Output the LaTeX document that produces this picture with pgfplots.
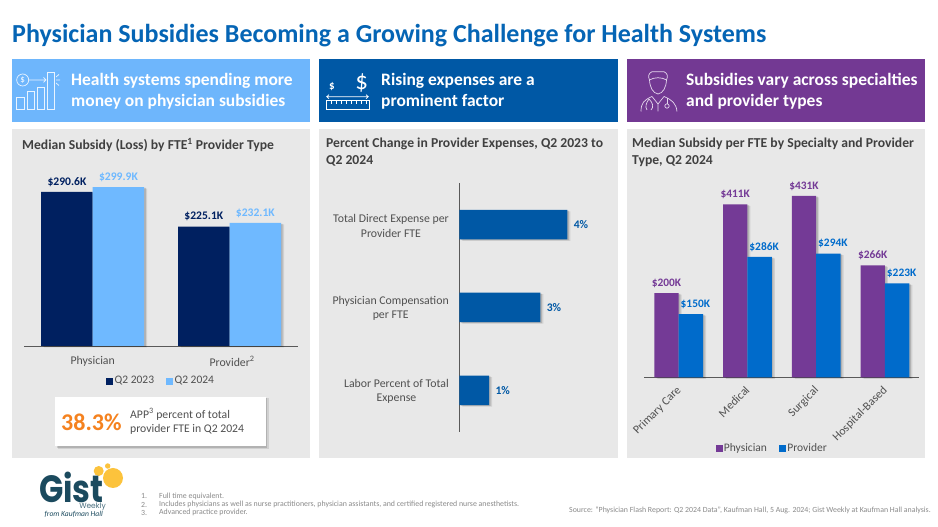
\documentclass[border=0pt]{standalone}
\usepackage{fontspec}
\usepackage{pgfplots}
\pgfplotsset{compat=1.18}
\setmainfont{Carlito}
\newfontfamily\logofont{Poppins}
\newcommand\fs[2]{\fontsize{#1}{#2}\selectfont}

\definecolor{titleblue}{HTML}{0565B5}
\definecolor{headlight}{HTML}{6EB6FC}
\definecolor{headblue}{HTML}{0058A5}
\definecolor{headpurple}{HTML}{733993}
\definecolor{panelgray}{HTML}{E8E8E8}
\definecolor{navy}{HTML}{002060}
\definecolor{skyblue}{HTML}{6FB9FF}
\definecolor{physpurple}{HTML}{743A96}
\definecolor{provblue}{HTML}{006BCB}
\definecolor{txt}{HTML}{404040}
\definecolor{tick}{HTML}{505050}
\definecolor{orangeval}{HTML}{F5821F}
\definecolor{logoteal}{HTML}{1B4A5E}
\definecolor{logoyellow}{HTML}{FCC33C}
\definecolor{note}{HTML}{8A8A8A}
\definecolor{iconpurple}{HTML}{E6D8EE}

\tikzset{
  barshadow/.style={
    preaction={fill=black,fill opacity=.10,draw=none,transform canvas={shift={(3pt,-1.5pt)}}},
    preaction={fill=black,fill opacity=.14,draw=none,transform canvas={shift={(1.6pt,-.8pt)}}}},
  headtext/.style={anchor=west,text=white,font=\bfseries\fs{17.45}{21},align=left},
  paneltitle/.style={anchor=north west,text=txt,font=\bfseries\fs{13.65}{17.2},align=left},
  notetext/.style={anchor=west,text=note,font=\fs{7.85}{8},inner sep=0pt},
}
\pgfplotsset{
  panelbars/.style={
    scale only axis,clip=false,
    /pgf/number format/assume math mode=true,
    axis line style={draw=black!65,line width=.7pt},
    major tick length=0pt,
    tick label style={font=\fs{11.8}{14.5},text=tick},
    nodes near coords style={font=\bfseries\fs{11.6}{14}},
    legend style={draw=none,fill=none,font=\fs{11.5}{14},text=tick,legend columns=-1,
      /tikz/every even column/.append style={column sep=10pt}},
  },
  sqleg/.style={legend image code/.code={\fill[#1] (0pt,-3pt) rectangle (6pt,3pt);}},
}

\begin{document}
\begin{tikzpicture}[x=1pt,y=1pt]
\path[use as bounding box,fill=white] (0,0) rectangle (938,527);

% layout drawn in reference pixels, y down
\begin{scope}[yshift=527pt,y=-1pt]
\node[anchor=west,text=titleblue,font=\bfseries\fs{26}{30},inner sep=0pt] at (12,35.5)
  {Physician Subsidies Becoming a Growing Challenge for Health Systems};

\fill[headlight] (11.5,59) rectangle (310,122);
\fill[headblue] (319,59) rectangle (618,122);
\fill[headpurple] (627,59) rectangle (925,122);
\fill[panelgray] (11.5,129) rectangle (310,458);
\fill[panelgray] (319,129) rectangle (618,458);
\fill[panelgray] (627,129) rectangle (925,458);

\node[headtext,inner sep=0pt] at (71,91) {Health systems spending more\\money on physician subsidies};
\node[headtext,inner sep=0pt] at (381,91) {Rising expenses are a\\prominent factor};
\node[headtext,inner sep=0pt] at (686,91) {Subsidies vary across specialties\\and provider types};

\node[paneltitle,inner sep=0pt] at (22,138) {Median Subsidy (Loss) by FTE\textsuperscript{1} Provider Type};
\node[paneltitle,inner sep=0pt] at (326,138) {Percent Change in Provider Expenses, Q2 2023 to\\Q2 2024};
\node[paneltitle,inner sep=0pt] at (632,138) {Median Subsidy per FTE by Specialty and Provider\\Type, Q2 2024};

% icon: money to bars
\begin{scope}[draw=white!85!headlight,line width=.7pt]
\draw (22.7,80) circle (6);
\node[text=white,font=\fs{9}{9},inner sep=0pt] at (22.7,80) {\$};
\draw (28.7,80) -- (46,80) (43.5,77.5) -- (46,80) -- (43.5,82.5);
\draw (16.7,97.3) rectangle (24,109.3);
\draw (27,91.7) rectangle (34.3,109.3);
\draw (37,87.3) rectangle (44.3,109.3);
\draw (47,72.7) rectangle (54.3,109.3);
\draw (56,80) -- (60,80) (56,77) -- (59,74.5) (56,83) -- (59,85.5);
\end{scope}
% icon: ruler
\begin{scope}[draw=white,line width=.7pt]
\node[text=white,font=\fs{25}{25},inner sep=0pt] at (361.7,83) {\$};
\node[text=white,font=\bfseries\fs{11}{11},inner sep=0pt] at (332,86.7) {\$};
\draw (326.7,96.7) -- (368.3,96.7) (329,94.7) -- (326.7,96.7) -- (329,98.7) (366,94.7) -- (368.3,96.7) -- (366,98.7);
\draw (326.7,100.7) rectangle (369.3,109);
\foreach \x in {331,336,341,346,351,356,361,366} \draw (\x,100.7) -- (\x,104.5);
\end{scope}
% icon: doctor
\begin{scope}[draw=iconpurple,line width=.7pt]
\draw (649.5,80) .. controls (650,88) and (653,93) .. (658,94) .. controls (663,93) and (666,88) .. (666.5,80);
\draw (649.5,80) .. controls (647.5,76) and (649,73) .. (652,71.7) -- (664,71.7) .. controls (667,73) and (668.5,76) .. (666.5,80);
\draw (649.5,80) .. controls (654,77) and (662,77) .. (666.5,80);
\draw (641,111.5) .. controls (641,103) and (644,100) .. (652,96.5);
\draw (664,96.5) .. controls (672,100) and (676,103) .. (677,111.5);
\draw (652,96.5) -- (658,104) -- (664,96.5) (658,104) -- (658,111.5);
\draw (649,99) .. controls (646,103) and (645,107) .. (647,110);
\draw (649,99) .. controls (653,103) and (654,107) .. (651,110);
\draw (667,98.5) -- (667,104);
\draw (667,106) circle (2.2);
\end{scope}

% callout box
\fill[black,opacity=.10] (57.5,398.5) rectangle (268.5,449);
\fill[black,opacity=.14] (56.5,397.8) rectangle (267.2,447.6);
\fill[white] (55.3,396.7) rectangle (266,446);
\node[anchor=west,text=orangeval,font=\bfseries\fs{24}{26},inner sep=0pt] at (61,422) {38.3\%};
\node[anchor=west,text=tick,font=\fs{11.7}{14.3},align=left,inner sep=0pt] at (130,421.3)
  {APP\textsuperscript{3} percent of total\\provider FTE in Q2 2024};

% logo
\fill[logoyellow] (113,478) circle (10);
\fill[logoyellow] (98.7,471) circle (5);
\fill[logoyellow] (107.7,466) circle (2.7);
\node[anchor=west,text=logoteal,font=\logofont\bfseries\fs{38}{38},inner sep=0pt] at (39,487.5) {\scalebox{.84}[1]{Gist}};
\node[anchor=east,text=logoteal!80,font=\logofont\fs{7.5}{8},inner sep=0pt] at (106,506.5) {Weekly};
\node[anchor=east,text=logoteal,font=\itshape\fs{7.6}{8},inner sep=0pt] at (103,514.5) {from Kaufman Hall};

% footnotes
\node[notetext] at (141,496.5) {1.};
\node[notetext] at (141,504.5) {2.};
\node[notetext] at (141,512.5) {3.};
\node[notetext] at (159,496.5) {Full time equivalent.};
\node[notetext] at (159,504.5) {Includes physicians as well as nurse practitioners, physician assistants, and certified registered nurse anesthetists.};
\node[notetext] at (159,512.5) {Advanced practice provider.};
\node[notetext,anchor=east] at (931,510) {Source: ``Physician Flash Report: Q2 2024 Data'', Kaufman Hall, 5 Aug. 2024; Gist Weekly at Kaufman Hall analysis.};
\end{scope}

% left panel
\begin{axis}[panelbars,
  at={(24.3pt,181pt)},anchor=south west,
  width=273.7pt,height=185.5pt,
  axis y line=none,axis x line*=bottom,
  xmin=-0.5,xmax=1.5,ymin=0,ymax=350,
  ybar,bar width=51.5pt,
  xtick={0,1},xticklabels={Physician,\hspace*{5pt}Provider\textsuperscript{2}},
  xticklabel style={yshift=-7pt},
  nodes near coords={\$\pgfmathprintnumber[fixed,precision=1,zerofill]{\pgfplotspointmeta}K},
  nodes near coords style={yshift=2pt},
  legend style={at={(0.5,-0.188)},anchor=center},
]
\addlegendimage{sqleg=navy}
\addlegendimage{sqleg=skyblue}
\addplot[forget plot,fill=navy,draw=none,barshadow,bar shift=-25.75pt,
  nodes near coords style={text=navy}] coordinates {(0,290.6) (1,225.1)};
\addplot[forget plot,fill=skyblue,draw=none,barshadow,bar shift=25.75pt,
  nodes near coords style={text=skyblue}] coordinates {(0,299.9) (1,232.1)};
\legend{Q2 2023,Q2 2024}
\end{axis}

% middle panel
\begin{axis}[panelbars,
  at={(459.3pt,95.3pt)},anchor=south west,
  width=148.5pt,height=248.4pt,
  axis x line=none,axis y line*=left,
  xmin=0,xmax=5.5,ymin=-0.5,ymax=2.5,y dir=reverse,
  xbar,bar width=29.5pt,
  ytick={0,1,2},
  yticklabels={{Total Direct Expense per\\Provider FTE},{Physician Compensation\\per FTE},{Labor Percent of Total\\Expense}},
  yticklabel style={align=center,xshift=-7pt,yshift=-1pt},
  nodes near coords={\pgfmathprintnumber[fixed,precision=0]{\pgfplotspointmeta}\%},
  nodes near coords style={text=headblue,xshift=3pt},
]
\addplot[fill=headblue,draw=none,barshadow] coordinates {(4,0) (3,1) (1.1,2)};
\end{axis}

% right panel
\begin{axis}[panelbars,
  at={(644.3pt,149.7pt)},anchor=south west,
  width=275pt,height=202pt,
  axis y line=none,axis x line*=bottom,
  xmin=-0.5,xmax=3.5,ymin=0,ymax=480,
  ybar,bar width=24.4pt,
  xtick={0,1,2,3},xticklabels={Primary Care,Medical,Surgical,Hospital-Based},
  xticklabel style={xshift=-3pt,yshift=-3pt,rotate=45,anchor=north east},
  nodes near coords={\$\pgfmathprintnumber[fixed,precision=0]{\pgfplotspointmeta}K},
  nodes near coords style={font=\bfseries\fs{11.4}{13},yshift=2pt},
  legend style={at={(0.465,-0.35)},anchor=center},
]
\addlegendimage{sqleg=physpurple}
\addlegendimage{sqleg=provblue}
\addplot[forget plot,fill=physpurple,draw=none,barshadow,bar shift=-12.2pt,
  nodes near coords style={text=physpurple}] coordinates {(0,200) (1,411) (2,431) (3,266)};
\addplot[forget plot,fill=provblue,draw=none,barshadow,bar shift=12.2pt,
  nodes near coords style={text=provblue,xshift=4.5pt}] coordinates {(0,150) (1,286) (2,294) (3,223)};
\legend{Physician,Provider}
\end{axis}
\end{tikzpicture}
\end{document}
